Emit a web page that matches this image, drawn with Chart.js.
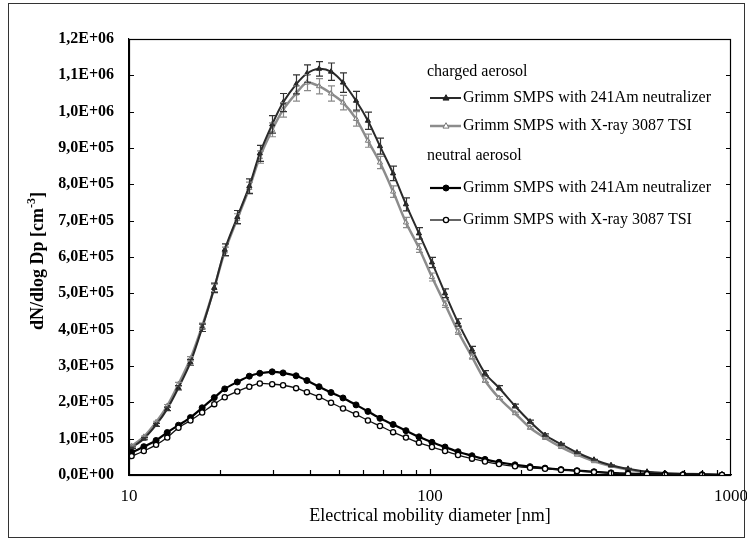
<!DOCTYPE html>
<html>
<head>
<meta charset="utf-8">
<script src="https://cdn.jsdelivr.net/npm/chart.js@4.4.1/dist/chart.umd.min.js"></script>
<style>
  html, body { margin: 0; padding: 0; background: #fff; }
  canvas { display: block; }
</style>
</head>
<body>
<canvas id="chart" width="747" height="542"></canvas>
<script>
// promjer cestica [nm] - 44 kanala
const diameters = [10.2, 11.2, 12.3, 13.4, 14.6, 16.0, 17.5, 19.2, 20.8, 22.9, 25.1, 27.2, 29.9, 32.5, 35.9, 39.0,
  42.8, 46.9, 51.4, 56.8, 62.2, 68.2, 75.4, 83.2, 91.9, 101.5, 112.2, 123.9, 137.9, 152.3, 169.5, 191.6,
  214.9, 241.1, 272.4, 307.8, 350.6, 399.4, 454.8, 526.0, 603.5, 692.8, 801.3, 933.4];

// charged aerosol
const chargedAm = [75000, 100000, 138000, 182000, 240000, 310000, 405000, 515000, 620000, 710000, 795000, 885000,
  965000, 1025000, 1075000, 1105000, 1118000, 1110000, 1080000, 1030000, 975000, 905000, 830000, 745000, 665000,
  585000, 500000, 420000, 345000, 280000, 240000, 190000, 147000, 110000, 85000, 62000, 42000, 27000, 17000,
  9000, 5000, 3000, 2000, 1000];
const chargedAmErr = [2000, 3000, 4000, 5000, 6000, 8000, 10000, 13000, 16000, 18000, 20000, 22000, 24000, 25000,
  26000, 24000, 20000, 24000, 27000, 26000, 24000, 22000, 20000, 18000, 16000, 14000, 12000, 10000, 9000, 7000,
  6000, 5000, 4000, 3000, 2000, 2000, 1000, 1000, 1000, 0, 0, 0, 0, 0];
const chargedXray = [80000, 105000, 145000, 190000, 250000, 320000, 410000, 515000, 615000, 705000, 790000, 875000,
  950000, 1005000, 1050000, 1080000, 1070000, 1050000, 1025000, 980000, 920000, 860000, 780000, 695000, 625000,
  545000, 470000, 395000, 325000, 260000, 212000, 170000, 130000, 102000, 77000, 56000, 38000, 25000, 15000,
  8000, 5000, 3000, 2000, 1000];
const chargedXrayErr = [2000, 2000, 3000, 4000, 5000, 6000, 8000, 10000, 12000, 14000, 16000, 17000, 19000, 20000,
  21000, 22000, 21000, 21000, 20000, 20000, 18000, 17000, 16000, 14000, 12000, 11000, 9000, 8000, 6000, 5000,
  4000, 3000, 3000, 2000, 2000, 1000, 1000, 0, 0, 0, 0, 0, 0, 0];

// neutral aerosol
const neutralAm = [62000, 78000, 95000, 117000, 137000, 158000, 185000, 213000, 237000, 256000, 272000, 280000,
  284000, 281000, 273000, 260000, 243000, 227000, 212000, 193000, 175000, 156000, 139000, 122000, 105000,
  90000, 77000, 64000, 53000, 43000, 35000, 28000, 23000, 19000, 15000, 12000, 9000, 6000, 4000, 3000, 2000,
  1000, 1000, 0];
const neutralXray = [52000, 66000, 83000, 103000, 130000, 150000, 172000, 195000, 214000, 230000, 243000, 252000,
  250000, 247000, 239000, 228000, 215000, 199000, 183000, 167000, 150000, 135000, 118000, 103000, 89000,
  77000, 66000, 55000, 45000, 37000, 30000, 24000, 20000, 17000, 14000, 11000, 8000, 5000, 3000, 2000, 1000,
  1000, 0, 0];

const xLabels = [10, 100, 1000];
const yMax = 1200000;
const yStep = 100000;

// indeksi datasetova u legendi: 0 = charged X-ray, 1 = charged Am, 2 = neutral Am, 3 = neutral X-ray
const legendGroups = [
  { title: 'charged aerosol', items: [1, 0] },
  { title: 'neutral aerosol', items: [2, 3] }
];

const SERIF = '"Liberation Serif", "Times New Roman", serif';

function pairs(vals) {
  return vals.map((v, i) => ({ x: diameters[i], y: v }));
}

// format 1,2E+06
function sciLabel(v) {
  v = Math.round(v);
  if (v === 0) return '0,0E+00';
  const e = Math.floor(Math.log10(v) + 1e-9);
  const m = v / Math.pow(10, e);
  return m.toFixed(1).replace('.', ',') + 'E+' + String(e).padStart(2, '0');
}

// okvir oko cijele slike, okvir grafa i unutrasnje crtice
const framePlugin = {
  id: 'frame',
  beforeDraw(chart) {
    const ctx = chart.ctx;
    ctx.save();
    ctx.fillStyle = '#fff';
    ctx.fillRect(0, 0, chart.width, chart.height);
    ctx.strokeStyle = '#333';
    ctx.lineWidth = 1;
    ctx.strokeRect(8.5, 3.5, 736, 534);
    ctx.restore();
  },
  afterDraw(chart) {
    const ctx = chart.ctx;
    const a = chart.chartArea;
    const xs = chart.scales.x, ys = chart.scales.y;
    ctx.save();
    ctx.strokeStyle = '#000';
    ctx.lineWidth = 1.2;
    ctx.strokeRect(a.left + 0.5, a.top + 0.5, a.right - a.left - 1, a.bottom - a.top);
    ctx.beginPath();
    for (let v = 0; v <= yMax; v += yStep) {
      const y = Math.round(ys.getPixelForValue(v)) + 0.5;
      ctx.moveTo(a.left, y); ctx.lineTo(a.left + 5, y);
      ctx.moveTo(a.right, y); ctx.lineTo(a.right - 5, y);
    }
    for (let dec = 10; dec < 1000; dec *= 10) {
      for (let k = 2; k <= 9; k++) {
        const x = Math.round(xs.getPixelForValue(dec * k)) + 0.5;
        ctx.moveTo(x, a.bottom); ctx.lineTo(x, a.bottom - 5);
      }
    }
    const x100 = Math.round(xs.getPixelForValue(100)) + 0.5;
    ctx.moveTo(x100, a.bottom); ctx.lineTo(x100, a.bottom - 6);
    ctx.stroke();

    // naslov y osi sa eksponentom
    ctx.translate(38, 261);
    ctx.rotate(-Math.PI / 2);
    ctx.fillStyle = '#000';
    ctx.textBaseline = 'middle';
    const main = 'dN/dlog Dp [cm';
    const sup = '-3';
    const end = ']';
    ctx.font = 'bold 18px ' + SERIF;
    const w1 = ctx.measureText(main).width;
    const w3 = ctx.measureText(end).width;
    ctx.font = 'bold 12px ' + SERIF;
    const w2 = ctx.measureText(sup).width;
    let x0 = -(w1 + w2 + w3) / 2;
    ctx.font = 'bold 18px ' + SERIF;
    ctx.textAlign = 'left';
    ctx.fillText(main, x0, 0);
    ctx.font = 'bold 12px ' + SERIF;
    ctx.fillText(sup, x0 + w1, -6);
    ctx.font = 'bold 18px ' + SERIF;
    ctx.fillText(end, x0 + w1 + w2, 0);
    ctx.restore();

    drawLegend(chart);
  }
};

// error barovi
const errorBarPlugin = {
  id: 'errorBars',
  afterDatasetsDraw(chart) {
    const ctx = chart.ctx;
    const xs = chart.scales.x, ys = chart.scales.y;
    ctx.save();
    chart.data.datasets.forEach(ds => {
      if (!ds.errors) return;
      ctx.strokeStyle = ds.errorColor;
      ctx.lineWidth = 1.2;
      ctx.beginPath();
      ds.data.forEach((p, i) => {
        const e = ds.errors[i];
        if (!e) return;
        const x = Math.round(xs.getPixelForValue(p.x)) + 0.5;
        const y1 = ys.getPixelForValue(p.y - e);
        const y2 = ys.getPixelForValue(p.y + e);
        ctx.moveTo(x, y1); ctx.lineTo(x, y2);
        ctx.moveTo(x - 3.5, y1); ctx.lineTo(x + 3.5, y1);
        ctx.moveTo(x - 3.5, y2); ctx.lineTo(x + 3.5, y2);
      });
      ctx.stroke();
    });
    ctx.restore();
  }
};

function drawMarker(ctx, ds, x, y) {
  ctx.save();
  ctx.lineWidth = ds.pointBorderWidth;
  ctx.strokeStyle = ds.pointBorderColor;
  ctx.fillStyle = ds.pointBackgroundColor;
  const r = ds.pointRadius;
  ctx.beginPath();
  if (ds.pointStyle === 'triangle') {
    ctx.moveTo(x, y - r * 1.1);
    ctx.lineTo(x + r, y + r * 0.7);
    ctx.lineTo(x - r, y + r * 0.7);
    ctx.closePath();
  } else {
    ctx.arc(x, y, r, 0, Math.PI * 2);
  }
  ctx.fill();
  ctx.stroke();
  ctx.restore();
}

function drawLegend(chart) {
  const ctx = chart.ctx;
  const ds = chart.data.datasets;
  const rows = [
    { type: 'title', text: legendGroups[0].title, y: 72 },
    { type: 'item', idx: legendGroups[0].items[0], y: 98 },
    { type: 'item', idx: legendGroups[0].items[1], y: 126 },
    { type: 'title', text: legendGroups[1].title, y: 156 },
    { type: 'item', idx: legendGroups[1].items[0], y: 188 },
    { type: 'item', idx: legendGroups[1].items[1], y: 220 }
  ];
  ctx.save();
  ctx.font = '16px ' + SERIF;
  ctx.fillStyle = '#000';
  ctx.textBaseline = 'middle';
  ctx.textAlign = 'left';
  rows.forEach(r => {
    if (r.type === 'title') {
      ctx.fillText(r.text, 427, r.y);
      return;
    }
    const d = ds[r.idx];
    ctx.strokeStyle = d.borderColor;
    ctx.lineWidth = d.borderWidth;
    ctx.beginPath();
    ctx.moveTo(430, r.y); ctx.lineTo(461, r.y);
    ctx.stroke();
    drawMarker(ctx, d, 446, r.y);
    ctx.fillStyle = '#000';
    ctx.fillText(d.label, 463, r.y);
  });
  ctx.restore();
}

document.addEventListener('DOMContentLoaded', function () {
  const ctx = document.getElementById('chart').getContext('2d');
  new Chart(ctx, {
    type: 'line',
    data: {
      datasets: [
        {
          label: 'Grimm SMPS with X-ray 3087 TSI',
          data: pairs(chargedXray),
          errors: chargedXrayErr,
          errorColor: '#8a8a8a',
          borderColor: '#8c8c8c',
          borderWidth: 2.5,
          pointStyle: 'triangle',
          pointRadius: 3,
          pointBorderWidth: 1,
          pointBorderColor: '#777',
          pointBackgroundColor: '#fff',
          order: 3
        },
        {
          label: 'Grimm SMPS with 241Am neutralizer',
          data: pairs(chargedAm),
          errors: chargedAmErr,
          errorColor: '#333',
          borderColor: '#2a2a2a',
          borderWidth: 2,
          pointStyle: 'triangle',
          pointRadius: 3,
          pointBorderWidth: 1,
          pointBorderColor: '#222',
          pointBackgroundColor: '#222',
          order: 2
        },
        {
          label: 'Grimm SMPS with 241Am neutralizer',
          data: pairs(neutralAm),
          borderColor: '#000',
          borderWidth: 2.2,
          pointStyle: 'circle',
          pointRadius: 3,
          pointBorderWidth: 1,
          pointBorderColor: '#000',
          pointBackgroundColor: '#000',
          order: 1
        },
        {
          label: 'Grimm SMPS with X-ray 3087 TSI',
          data: pairs(neutralXray),
          borderColor: '#111',
          borderWidth: 1.3,
          pointStyle: 'circle',
          pointRadius: 2.6,
          pointBorderWidth: 1.3,
          pointBorderColor: '#000',
          pointBackgroundColor: '#fff',
          order: 0
        }
      ]
    },
    options: {
      responsive: false,
      animation: false,
      devicePixelRatio: 1,
      layout: { padding: { left: 0, right: 16, top: 39, bottom: 0 } },
      elements: { line: { tension: 0.3 } },
      plugins: { legend: { display: false }, tooltip: { enabled: false } },
      scales: {
        x: {
          type: 'logarithmic',
          min: 10,
          max: 1000,
          afterFit: s => { s.height = 67; s.paddingLeft = 0; s.paddingRight = 0; },
          grid: { display: false, drawTicks: false },
          border: { display: true, color: '#000', width: 1.2 },
          ticks: {
            padding: 11,
            color: '#000',
            font: { family: SERIF, size: 17 },
            autoSkip: false,
            maxRotation: 0,
            callback: v => xLabels.includes(v) ? String(v) : null
          },
          title: {
            display: true,
            text: 'Electrical mobility diameter [nm]',
            color: '#000',
            font: { family: SERIF, size: 18 },
            padding: { top: 0, bottom: 15 }
          }
        },
        y: {
          min: 0,
          max: yMax,
          afterFit: s => { s.width = 129; s.paddingTop = 0; s.paddingBottom = 0; },
          grid: { display: false, drawTicks: false },
          border: { display: true, color: '#000', width: 1.2 },
          ticks: {
            stepSize: yStep,
            padding: 15,
            color: '#000',
            font: { family: SERIF, size: 16, weight: 'bold' },
            callback: v => sciLabel(v)
          }
        }
      }
    },
    plugins: [framePlugin, errorBarPlugin]
  });
});
</script>
</body>
</html>
